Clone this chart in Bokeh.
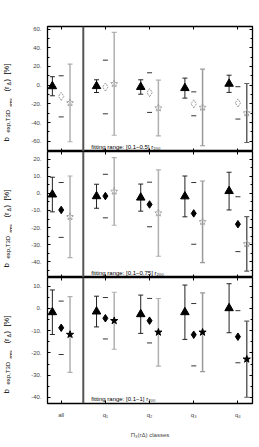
from math import pi
from bokeh.plotting import figure
from bokeh.models import FixedTicker, LinearAxis, Range1d, Span, Label, ColumnDataSource
from bokeh.layouts import column, row
from bokeh.embed import file_html
from bokeh.resources import INLINE

# ---------------- data ----------------
categories = ["all", "q₁", "q₂", "q₃", "q₄"]
fit_ranges = ["[0.1−0.5]", "[0.1−0.75]", "[0.1−1]"]

# panel 1 : fitting range [0.1-0.5] r200
tri_p1 = [-1.2, -1.1, -2.0, -3.2, 1.4]
tri_err_p1 = [10.2, 6.8, 7.7, 10.7, 9.2]
dia_p1 = [-12.0, -2.0, -8.0, -20.0, -19.0]
dia_err_p1 = [22.0, 28.7, 21.2, 12.8, 17.3]
star_p1 = [-19.0, 1.4, -24.5, -23.9, -29.8]
star_err_p1 = [41.5, 55.0, 29.8, 41.0, 31.5]

# panel 2 : fitting range [0.1-0.75] r200
tri_p2 = [-0.7, -1.7, -2.5, -1.8, 1.3]
tri_err_p2 = [10.1, 7.0, 7.9, 11.9, 11.0]
dia_p2 = [-9.7, -1.6, -6.5, -11.7, -18.0]
dia_err_p2 = [16.0, 12.7, 13.0, 18.0, 16.0]
star_p2 = [-13.7, 1.1, -11.5, -16.6, -29.5]
star_err_p2 = [23.8, 19.7, 25.2, 23.8, 15.9]

# panel 3 : fitting range [0.1-1] r200
tri_p3 = [-1.7, -1.4, -2.6, -1.7, 0.1]
tri_err_p3 = [10.0, 6.9, 8.6, 12.2, 11.0]
dia_p3 = [-8.7, -4.4, -5.5, -11.8, -12.7]
dia_err_p3 = [12.0, 9.3, 10.0, 14.0, 11.7]
star_p3 = [-11.7, -5.5, -10.7, -10.7, -22.8]
star_err_p3 = [17.0, 12.8, 15.2, 17.7, 17.1]

y_ranges = [(-71.0, 62.7), (-49.1, 24.4), (-42.7, 13.9)]
y_major = [[-60, -40, -20, 0, 20, 40, 60],
           [-40, -30, -20, -10, 0, 10, 20],
           [-40, -30, -20, -10, 0, 10]]
y_minor = [list(range(-70, 70, 10)), list(range(-50, 25, 5)), list(range(-45, 15, 5))]

FONT = "Liberation Sans"
xpos = [1, 2, 3, 4, 5]
frame_heights = [125, 126, 126]
TOP = 26
LABW = 12


def hidden_labels(ax):
    ax.major_label_text_font_size = "0px"
    ax.major_label_text_color = None
    ax.major_label_standoff = 0


def panel(i, tri, tri_e, dia, dia_e, star, star_e, bottom):
    p = figure(frame_width=205, frame_height=frame_heights[i], x_range=Range1d(0.69, 5.33),
               y_range=Range1d(*y_ranges[i]), output_backend="svg", toolbar_location=None,
               min_border_left=47 - LABW, min_border_right=4,
               min_border_top=TOP if i == 0 else 0, min_border_bottom=0,
               background_fill_color="white", border_fill_color="white")
    p.grid.visible = False
    p.outline_line_color = "black"
    p.outline_line_width = 1.3

    # y axes
    ticker = FixedTicker(ticks=y_major[i], minor_ticks=y_minor[i])
    yax = p.yaxis[0]
    yax.ticker = ticker
    yax.major_label_overrides = {v: f"{v}." for v in y_major[i]}
    yax.major_label_text_font = FONT
    yax.major_label_text_font_size = "6px"
    yax.major_label_standoff = 6
    yax.major_tick_in = 3
    yax.major_tick_out = 0
    yax.minor_tick_in = 2
    yax.minor_tick_out = 0
    yax.axis_line_color = None
    ryax = LinearAxis(ticker=ticker, major_tick_in=3, major_tick_out=0, minor_tick_in=2,
                      minor_tick_out=0, axis_line_color=None)
    hidden_labels(ryax)
    p.add_layout(ryax, "right")

    # x axes
    xt = FixedTicker(ticks=xpos, minor_ticks=[])
    xax = p.xaxis[0]
    xax.ticker = xt
    xax.major_tick_in = 3
    xax.major_tick_out = 0
    xax.axis_line_color = None
    if bottom:
        xax.major_label_overrides = {x: c for x, c in zip(xpos, categories)}
        xax.major_label_text_font = FONT
        xax.major_label_text_font_size = "6px"
        xax.major_label_standoff = 8
        xax.axis_label = "Π₃(rΔ) classes"
        xax.axis_label_text_font = FONT
        xax.axis_label_text_font_style = "normal"
        xax.axis_label_text_font_size = "6px"
        xax.axis_label_standoff = 11
    else:
        hidden_labels(xax)
    tax = LinearAxis(ticker=xt, major_tick_in=3, major_tick_out=0, axis_line_color=None)
    hidden_labels(tax)
    p.add_layout(tax, "above")

    p.add_layout(Span(location=1.5, dimension="height", line_color="#555555", line_width=2))

    xt_ = [x - 0.2 for x in xpos]
    xd_ = list(xpos)
    xs_ = [x + 0.2 for x in xpos]

    # star error bars (gray)
    scol = ["#b0b0b0", "#b0b0b0", "#b0b0b0", "#9a9a9a", "#606060"]
    src_s = ColumnDataSource(dict(x=xs_, y=star, lo=[v - e for v, e in zip(star, star_e)],
                                  hi=[v + e for v, e in zip(star, star_e)], c=scol))
    p.segment(x0="x", x1="x", y0="lo", y1="hi", source=src_s, line_color="c", line_width=1.5)
    p.scatter(x="x", y="lo", source=src_s, marker="dash", size=5, line_color="c", line_width=1.1)
    p.scatter(x="x", y="hi", source=src_s, marker="dash", size=5, line_color="c", line_width=1.1)

    # diamond error caps only
    src_d = ColumnDataSource(dict(x=xd_, y=dia, lo=[v - e for v, e in zip(dia, dia_e)],
                                  hi=[v + e for v, e in zip(dia, dia_e)]))
    p.scatter(x="x", y="lo", source=src_d, marker="dash", size=5, line_color="#333333", line_width=1)
    p.scatter(x="x", y="hi", source=src_d, marker="dash", size=5, line_color="#333333", line_width=1)

    # triangle error bars
    src_t = ColumnDataSource(dict(x=xt_, y=tri, lo=[v - e for v, e in zip(tri, tri_e)],
                                  hi=[v + e for v, e in zip(tri, tri_e)]))
    p.segment(x0="x", x1="x", y0="lo", y1="hi", source=src_t, line_color="#222222", line_width=1)
    p.scatter(x="x", y="lo", source=src_t, marker="dash", size=5, line_color="#222222", line_width=1)
    p.scatter(x="x", y="hi", source=src_t, marker="dash", size=5, line_color="#222222", line_width=1)

    # markers
    p.scatter(x="x", y="y", source=src_t, marker="triangle", size=8.5, fill_color="black", line_color="black")
    if i == 0:
        p.scatter(x="x", y="y", source=src_d, marker="diamond", size=8, fill_color=None,
                  line_color="#999999", line_dash="2 1", line_width=1)
    else:
        p.scatter(x="x", y="y", source=src_d, marker="diamond", size=7.5, fill_color="black", line_color="black")
    if i < 2:
        p.scatter(x="x", y="y", source=src_s, marker="star", size=8, fill_color=None,
                  line_color="#a0a0a0", line_dash="2 1", line_width=1)
    else:
        p.scatter(x="x", y="y", source=src_s, marker="star", size=7.5, fill_color="black", line_color="black")

    p.add_layout(Label(x=1.5, y=2, x_units="data", y_units="screen", x_offset=8,
                       text=f"fitting range: {fit_ranges[i]} r₂₀₀", text_font=FONT,
                       text_font_size="6px", text_baseline="bottom", text_color="black"))
    return p


# narrow strip on the left holding the rotated y-axis titles (pixel coordinates, y downwards)
total_h = TOP + sum(frame_heights)
lab = figure(frame_width=LABW, frame_height=total_h, x_range=Range1d(0, LABW),
             y_range=Range1d(total_h, 0), x_axis_type=None, y_axis_type=None,
             output_backend="svg", toolbar_location=None, min_border=0,
             background_fill_color="white", border_fill_color="white")
lab.grid.visible = False
lab.outline_line_color = None
pieces = [("b", 8, 6.2, 10), ("exp,T3D", 6, 7.6, 19), ("rms", 5, 10, 45),
          ("(r", 7.5, 6.2, 60), ("Δ", 5, 8, 66), (")", 7.5, 6.2, 70), ("[%]", 7.5, 6.2, 77)]
bottoms = [TOP + sum(frame_heights[:k + 1]) for k in range(3)]
for fb in bottoms:
    for t, s, x, off in pieces:
        lab.add_layout(Label(x=x, y=fb - off, text=t, angle=pi / 2, text_font=FONT,
                             text_font_size=f"{s}px", text_align="left",
                             text_baseline="alphabetic", text_color="black"))

p1 = panel(0, tri_p1, tri_err_p1, dia_p1, dia_err_p1, star_p1, star_err_p1, False)
p2 = panel(1, tri_p2, tri_err_p2, dia_p2, dia_err_p2, star_p2, star_err_p2, False)
p3 = panel(2, tri_p3, tri_err_p3, dia_p3, dia_err_p3, star_p3, star_err_p3, True)

layout = row(lab, column(p1, p2, p3, spacing=0), spacing=0)
open("out.html", "w").write(file_html(layout, INLINE))
